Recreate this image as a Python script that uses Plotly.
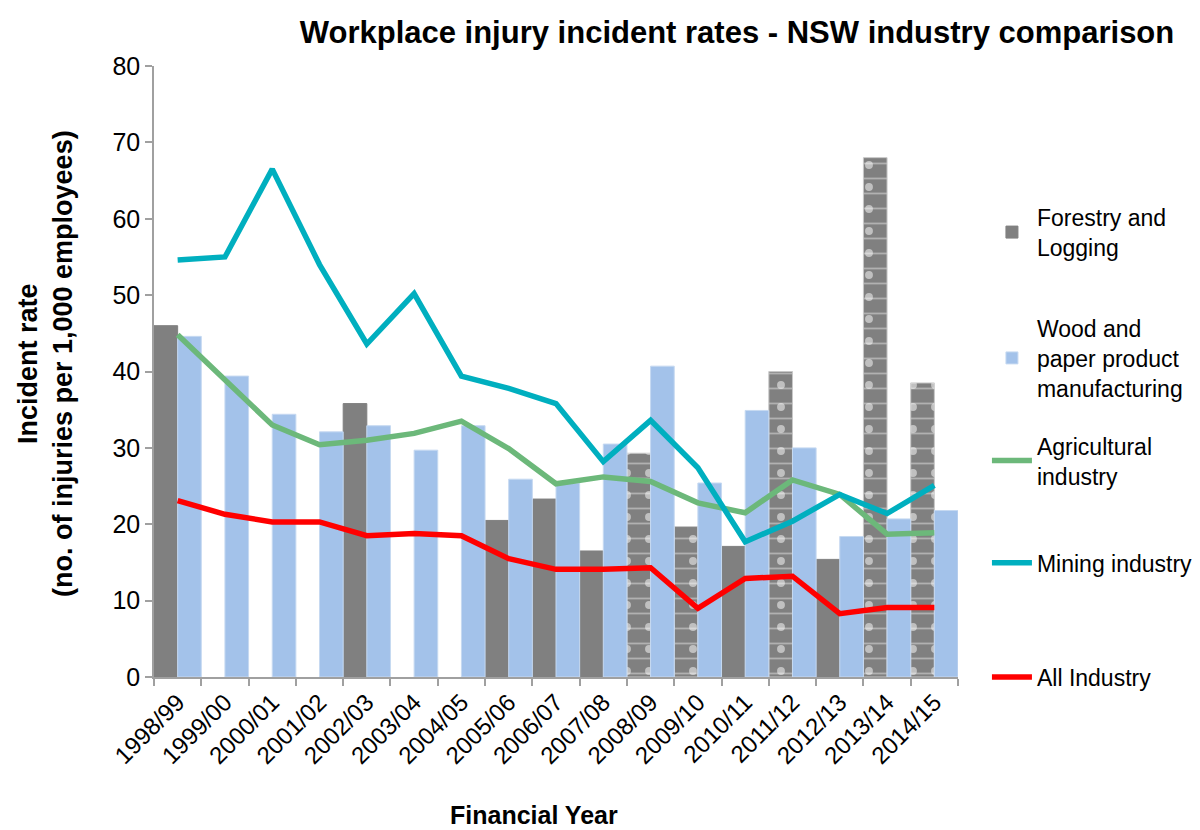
import plotly.graph_objects as go

# Financial years on the category axis
years = ["1998/99", "1999/00", "2000/01", "2001/02", "2002/03", "2003/04",
         "2004/05", "2005/06", "2006/07", "2007/08", "2008/09", "2009/10",
         "2010/11", "2011/12", "2012/13", "2013/14", "2014/15"]

# Incident rates (injuries per 1,000 employees)
forestry = [46.0, None, None, None, 35.8, None, None, 20.5, 23.3, 16.5,
            29.3, 19.7, 17.1, 40.0, 15.4, 68.0, 38.5]
forestry_hatched = [False, False, False, False, False, False, False, False, False, False,
                    True, True, False, True, False, True, True]
wood_paper = [44.6, 39.4, 34.4, 32.1, 32.9, 29.7, 32.9, 25.9, 25.4, 30.5,
              40.7, 25.4, 34.9, 30.0, 18.4, 20.7, 21.8]
agricultural = [44.8, 38.9, 33.0, 30.4, 31.0, 31.9, 33.5, 29.9, 25.3, 26.2,
                25.6, 22.8, 21.5, 25.8, 23.9, 18.7, 18.9]
mining = [54.6, 55.0, 66.5, 54.0, 43.6, 50.2, 39.4, 37.8, 35.8, 28.2,
          33.6, 27.4, 17.7, 20.4, 23.9, 21.4, 25.1]
all_industry = [23.1, 21.3, 20.3, 20.3, 18.5, 18.8, 18.5, 15.5, 14.1, 14.1,
                14.3, 9.0, 12.9, 13.2, 8.3, 9.1, 9.1]

FONT = "Liberation Sans, Arial, sans-serif"
GREY = "#808080"
BLUE = "#A3C2EA"
GREEN = "#6CB87A"
TEAL = "#00AFBF"
RED = "#FF0000"
AXIS = "#A0A0A0"

brick = ["-" if h else "" for h in forestry_hatched]
dots = ["." if h else "" for h in forestry_hatched]
edge = ["#C8C8C8" if h else GREY for h in forestry_hatched]

fig = go.Figure()

# Forestry bars sit in the left half of each category slot
fig.add_trace(go.Bar(
    x=years, y=forestry, name="Forestry and<br>Logging",
    offset=-0.5, width=0.5,
    marker=dict(color=GREY, line=dict(color=edge, width=1),
                pattern=dict(shape=brick, fgcolor="#E2E2E2", size=15, solidity=0.12)),
    legend="legend",
))
# dotted overlay on the estimated years
fig.add_trace(go.Bar(
    x=years, y=forestry, showlegend=False, hoverinfo="skip",
    offset=-0.5, width=0.5,
    marker=dict(color="rgba(0,0,0,0)", line=dict(width=0),
                pattern=dict(shape=dots, fgcolor="white", size=22, solidity=0.1)),
))
# Wood and paper bars in the right half
fig.add_trace(go.Bar(
    x=years, y=wood_paper, name="Wood and<br>paper product<br>manufacturing",
    offset=0, width=0.5,
    marker=dict(color=BLUE, line=dict(color="#C6D9F1", width=1)),
    legend="legend2",
))
fig.add_trace(go.Scatter(
    x=years, y=agricultural, name="Agricultural<br>industry", mode="lines",
    line=dict(color=GREEN, width=5.5), legend="legend3",
))
fig.add_trace(go.Scatter(
    x=years, y=mining, name="Mining industry", mode="lines",
    line=dict(color=TEAL, width=5.5), legend="legend4",
))
fig.add_trace(go.Scatter(
    x=years, y=all_industry, name="All Industry", mode="lines",
    line=dict(color=RED, width=5.5), legend="legend5",
))

legend_style = dict(x=1.036, xanchor="left", yanchor="middle",
                    font=dict(family=FONT, size=23, color="black"),
                    bgcolor="rgba(0,0,0,0)", itemwidth=40)

fig.update_layout(
    width=1200, height=830,
    margin=dict(l=154, r=242, t=66, b=153, autoexpand=False),
    paper_bgcolor="white", plot_bgcolor="white",
    barmode="overlay",
    font=dict(family=FONT, color="black"),
    title=dict(text="<b>Workplace injury incident rates - NSW industry comparison</b>",
               x=737 / 1200, xanchor="center", y=1 - 32 / 830, yanchor="middle",
               font=dict(family=FONT, size=31, color="black")),
    legend=dict(y=0.728, **legend_style),
    legend2=dict(y=0.522, **legend_style),
    legend3=dict(y=0.354, **legend_style),
    legend4=dict(y=0.187, **legend_style),
    legend5=dict(y=0.0, **legend_style),
    xaxis=dict(type="category", showline=True, linecolor=AXIS, linewidth=1.5,
               ticks="outside", tickson="boundaries", ticklen=7, tickcolor=AXIS,
               tickwidth=1.5, tickangle=-45, showgrid=False,
               tickfont=dict(family=FONT, size=24, color="black")),
    yaxis=dict(range=[0, 80], dtick=10, showline=True, linecolor=AXIS, linewidth=1.5,
               ticks="outside", ticklen=7, tickcolor=AXIS, tickwidth=1.5,
               showgrid=False, zeroline=False,
               tickfont=dict(family=FONT, size=25, color="black")),
    annotations=[
        dict(text="<b>Incident rate<br>(no. of injuries per 1,000 employees)</b>",
             xref="paper", yref="paper", x=(45 - 154) / 804, y=(677 - 364) / 611,
             xanchor="center", yanchor="middle", textangle=-90, showarrow=False,
             font=dict(family=FONT, size=27, color="black")),
        dict(text="<b>Financial Year</b>",
             xref="paper", yref="paper", x=(534 - 154) / 804, y=-(815 - 677) / 611,
             xanchor="center", yanchor="middle", showarrow=False,
             font=dict(family=FONT, size=25, color="black")),
    ],
)

fig.write_html("out.html")
